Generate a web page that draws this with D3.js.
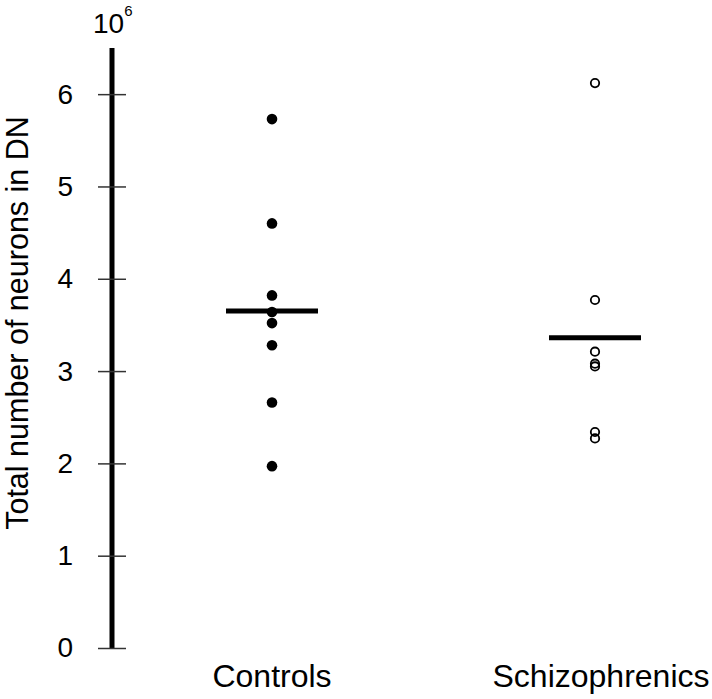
<!DOCTYPE html>
<html>
<head>
<meta charset="utf-8">
<script src="https://cdn.jsdelivr.net/npm/d3@7"></script>
<style>
  html, body { margin: 0; padding: 0; background: #fff; }
  svg { display: block; font-family: "Liberation Sans", Arial, sans-serif; }
</style>
</head>
<body>
<svg id="chart" width="712" height="699"></svg>
<script>
// ---- data (values in units of 10^6 neurons) ----
const categories = ["Controls", "Schizophrenics"];
const controlsValues = [5.73, 4.60, 3.82, 3.64, 3.52, 3.28, 2.66, 1.97];
const schizoValues = [6.12, 3.77, 3.21, 3.08, 3.05, 2.34, 2.27];
const groupMeans = [3.65, 3.36];
const yTicks = [0, 1, 2, 3, 4, 5, 6];
const yLabel = "Total number of neurons in DN";

const svg = d3.select("#chart");

const y = d3.scaleLinear().domain([0, 6.5]).range([648, 48]);
const x = d3.scalePoint().domain(categories).range([272, 595]);

// y axis
const axis = d3.axisLeft(y).tickValues(yTicks).tickSize(14).tickSizeOuter(0).tickFormat(d3.format("d"));
const gAxis = svg.append("g").attr("transform", "translate(112,0)").call(axis);
gAxis.select(".domain").attr("stroke", "#000").attr("stroke-width", 5)
  .attr("d", `M0,${y(6.5)}V${y(0) + 1}`);
gAxis.selectAll(".tick line").attr("x1", -14).attr("x2", 14)
  .attr("stroke", "#333").attr("stroke-width", 1.5);
gAxis.selectAll(".tick text").attr("x", -39).attr("font-size", 28)
  .attr("fill", "#000").attr("font-family", "Liberation Sans, Arial, sans-serif");

// exponent label
const expo = svg.append("text").attr("x", 93).attr("y", 33).attr("font-size", 28).attr("fill", "#000");
expo.append("tspan").text("10");
expo.append("tspan").attr("font-size", 15).attr("dy", -17).text("6");

// y axis title
svg.append("text")
  .attr("transform", "rotate(-90)")
  .attr("x", -323).attr("y", 27.5)
  .attr("text-anchor", "middle").attr("font-size", 30.5).attr("fill", "#000")
  .text(yLabel);

// category labels
svg.selectAll("text.cat").data(categories).enter().append("text")
  .attr("class", "cat")
  .attr("x", (d, i) => x(d) + (i === 1 ? 6 : 0))
  .attr("y", 687)
  .attr("text-anchor", "middle").attr("font-size", 32).attr("fill", "#000")
  .text(d => d);

// mean lines
svg.selectAll("line.mean").data(categories).enter().append("line")
  .attr("class", "mean")
  .attr("x1", d => x(d) - 46).attr("x2", d => x(d) + 46)
  .attr("y1", (d, i) => y(groupMeans[i])).attr("y2", (d, i) => y(groupMeans[i]))
  .attr("stroke", "#000").attr("stroke-width", 5);

// controls: filled dots
svg.selectAll("circle.ctrl").data(controlsValues).enter().append("circle")
  .attr("class", "ctrl")
  .attr("cx", x("Controls")).attr("cy", d => y(d)).attr("r", 5.3)
  .attr("fill", "#000");

// schizophrenics: open circles
svg.selectAll("circle.schz").data(schizoValues).enter().append("circle")
  .attr("class", "schz")
  .attr("cx", x("Schizophrenics")).attr("cy", d => y(d)).attr("r", 4.2)
  .attr("fill", "none").attr("stroke", "#000").attr("stroke-width", 1.8);
</script>
</body>
</html>
